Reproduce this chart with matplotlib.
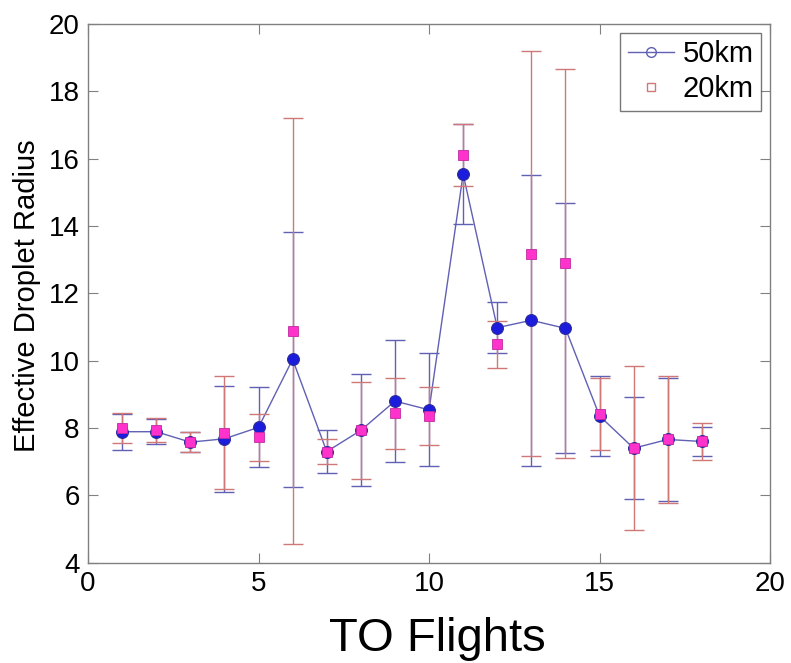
import matplotlib

matplotlib.use("Agg")
import matplotlib.pyplot as plt
from matplotlib.lines import Line2D

plt.rcParams["font.family"] = ["Liberation Sans", "DejaVu Sans"]

# Effective droplet radius per TO flight, 50 km and 20 km averaging
flights = list(range(1, 19))
r50 = [7.89, 7.89, 7.58, 7.68, 8.02, 10.04, 7.30, 7.93, 8.80,
       8.54, 15.54, 10.98, 11.20, 10.96, 8.36, 7.40, 7.66, 7.60]
err50 = [0.54, 0.37, 0.29, 1.58, 1.19, 3.79, 0.65, 1.66, 1.80,
         1.68, 1.49, 0.76, 4.32, 3.71, 1.18, 1.51, 1.82, 0.44]
r20 = [8.01, 7.94, 7.58, 7.86, 7.72, 10.88, 7.30, 7.93, 8.44,
       8.36, 16.10, 10.49, 13.18, 12.89, 8.42, 7.40, 7.66, 7.60]
err20 = [0.45, 0.36, 0.29, 1.68, 0.69, 6.33, 0.38, 1.43, 1.05,
         0.87, 0.92, 0.70, 6.01, 5.77, 1.07, 2.44, 1.88, 0.55]

BLUE_LINE = "#6060b4"
BLUE_FILL = "#1c1cdc"
PINK_BAR = "#d07878"
PINK_FILL = "#ff33cc"

fig = plt.figure(figsize=(7.91, 6.63), dpi=100)
ax = fig.add_axes([0.1113, 0.1513, 0.8622, 0.8125])

ax.errorbar(flights, r50, yerr=err50, color=BLUE_LINE, lw=1.0,
            elinewidth=1.0, capsize=7, capthick=1.0, zorder=2)
ax.errorbar(flights, r20, yerr=err20, fmt="none", ecolor=PINK_BAR,
            elinewidth=1.0, capsize=7, capthick=1.0, zorder=3)
ax.plot(flights, r50, "o", ms=8.5, mfc=BLUE_FILL, mec="#2a2a9a", mew=0.8,
        zorder=4)
ax.plot(flights, r20, "s", ms=6.5, mfc=PINK_FILL, mec="#c02aa0", mew=0.6,
        zorder=5)

ax.set_xlim(0, 20)
ax.set_ylim(4, 20)
ax.set_xticks([0, 5, 10, 15, 20])
ax.set_yticks(range(4, 21, 2))
ax.tick_params(direction="in", length=7, width=0.8, color="#808080",
               labelsize=20, top=True, right=True, pad=6)
for s in ax.spines.values():
    s.set_color("#808080")
    s.set_linewidth(1.0)

ax.set_xlabel("TO Flights", fontsize=34)
ax.xaxis.set_label_coords(0.5125, -0.101)
ax.set_ylabel("Effective Droplet Radius", fontsize=21)
ax.yaxis.set_label_coords(-0.069, 0.495)

handles = [
    Line2D([], [], color=BLUE_LINE, lw=1.0, marker="o", ms=7, mfc="none",
           mec=BLUE_LINE),
    Line2D([], [], color=PINK_BAR, ls="none", marker="s", ms=6, mfc="none",
           mec=PINK_BAR),
]
leg = ax.legend(handles, ["50km", "20km"], loc="upper right", fontsize=21,
                frameon=True, fancybox=False, borderaxespad=0.3,
                handlelength=1.6, handletextpad=0.3, borderpad=0.25,
                labelspacing=0.25)
leg.get_frame().set_edgecolor("#555555")
leg.get_frame().set_linewidth(1.0)

fig.savefig("out.png", dpi=100)
